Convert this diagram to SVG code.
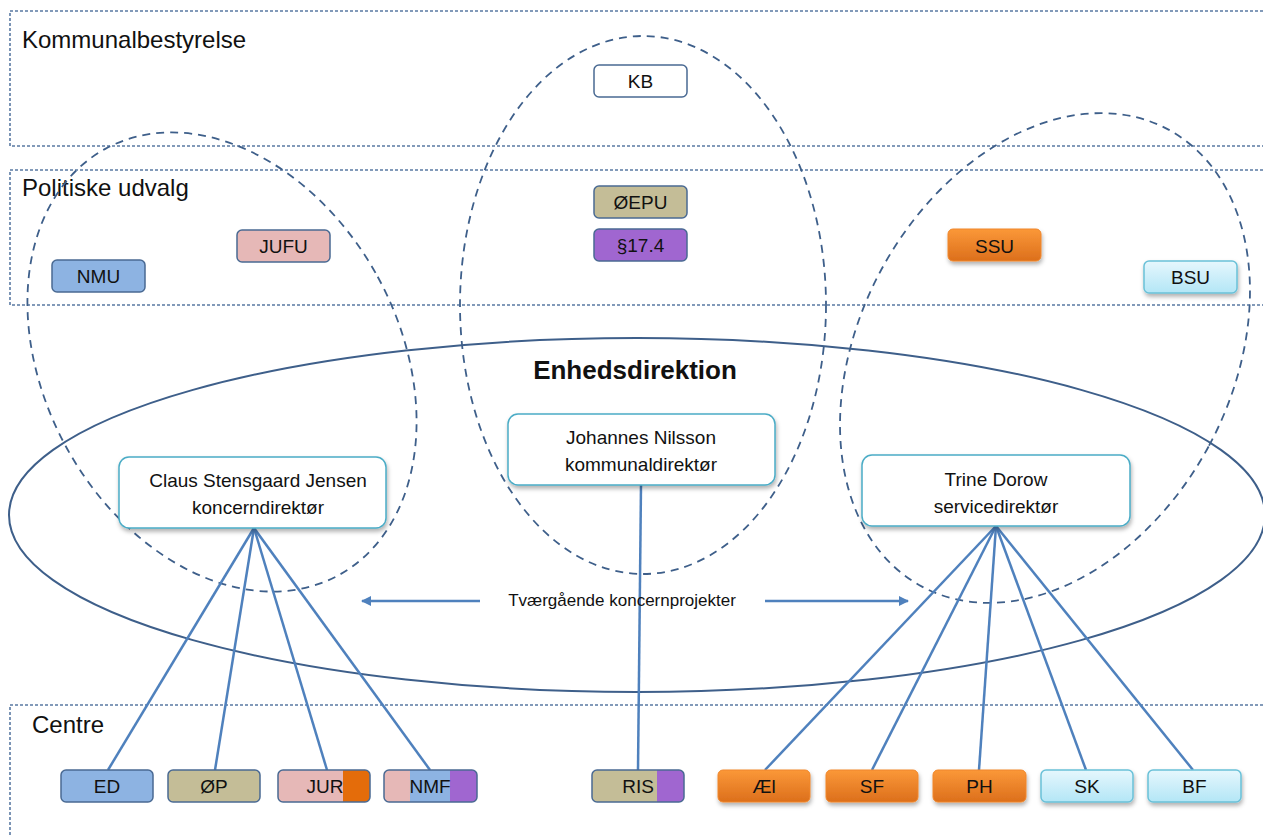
<svg xmlns="http://www.w3.org/2000/svg" width="1263" height="837" viewBox="0 0 1263 837">
<style>
text{font-family:"Liberation Sans",Arial,sans-serif;fill:#111}
.layer{fill:none;stroke:#5a7aa3;stroke-width:1.6;stroke-dasharray:3 2}
.lt{font-size:24px}
.dash{fill:none;stroke:#3e5f8a;stroke-width:1.8;stroke-dasharray:8 6}
.big{fill:none;stroke:#3e5f8a;stroke-width:2}
.sb{stroke:#4a6a93;stroke-width:1.5}
.lbl{font-size:19px;text-anchor:middle}
.dir{fill:#fff;stroke:#4bacc6;stroke-width:1.5}
.dt{font-size:19px;text-anchor:middle}
.con{stroke:#4f81bd;stroke-width:2.5;fill:none}
.blue{fill:#8db3e2}.tan{fill:#c4bd97}.pink{fill:#e6b8b7}.purple{fill:#a066d0}.orng{fill:#e46c0a}
</style>
<defs>
<linearGradient id="gO" x1="0" y1="0" x2="0" y2="1"><stop offset="0" stop-color="#fb9838"/><stop offset="1" stop-color="#dc6f1c"/></linearGradient>
<linearGradient id="gC" x1="0" y1="0" x2="0" y2="1"><stop offset="0" stop-color="#e6f7fd"/><stop offset="1" stop-color="#b3e6f6"/></linearGradient>
<filter id="sh" x="-10%" y="-20%" width="125%" height="150%"><feDropShadow dx="1" dy="3" stdDeviation="2" flood-color="#000" flood-opacity="0.3"/></filter>
<marker id="ah" markerWidth="10" markerHeight="10" refX="9" refY="5" orient="auto" markerUnits="userSpaceOnUse"><path d="M0,0 L10,5 L0,10 z" fill="#4f81bd"/></marker>
<clipPath id="cJUR"><rect x="278" y="770" width="92" height="32" rx="5"/></clipPath>
<clipPath id="cNMF"><rect x="384" y="770" width="93" height="32" rx="5"/></clipPath>
<clipPath id="cRIS"><rect x="592" y="770" width="92" height="32" rx="5"/></clipPath>
</defs>

<g id="layers">
<rect class="layer" x="10" y="11" width="1270" height="135"/>
<text class="lt" x="22" y="48">Kommunalbestyrelse</text>
<rect class="layer" x="10" y="170" width="1270" height="135"/>
<text class="lt" x="22" y="196">Politiske udvalg</text>
<rect class="layer" x="10" y="705" width="1270" height="150"/>
<text class="lt" x="32" y="733">Centre</text>
</g>

<g id="groups">
<ellipse class="big" cx="637" cy="515" rx="628" ry="177"/>
<text x="635" y="379" font-size="26" font-weight="bold" text-anchor="middle">Enhedsdirektion</text>
<ellipse class="dash" cx="222" cy="362" rx="177.5" ry="243" transform="rotate(-28.7 222 362)"/>
<ellipse class="dash" cx="643" cy="305" rx="183" ry="269"/>
<ellipse class="dash" cx="1045" cy="358" rx="186" ry="259.6" transform="rotate(28.4 1045 358)"/>
</g>

<g id="connectors">
<line class="con" x1="254" y1="528" x2="108" y2="770"/>
<line class="con" x1="254" y1="528" x2="215" y2="770"/>
<line class="con" x1="254" y1="528" x2="327" y2="770"/>
<line class="con" x1="254" y1="528" x2="430" y2="770"/>
<line class="con" x1="641" y1="485" x2="638" y2="770"/>
<line class="con" x1="996" y1="526" x2="765" y2="770"/>
<line class="con" x1="996" y1="526" x2="872" y2="770"/>
<line class="con" x1="996" y1="526" x2="979" y2="770"/>
<line class="con" x1="996" y1="526" x2="1086" y2="770"/>
<line class="con" x1="996" y1="526" x2="1193" y2="770"/>
<line class="con" x1="480" y1="601" x2="362" y2="601" marker-end="url(#ah)"/>
<line class="con" x1="765" y1="601" x2="908" y2="601" marker-end="url(#ah)"/>
<text x="622" y="606" font-size="17" text-anchor="middle">Tværgående koncernprojekter</text>
</g>

<g id="KB"><rect class="sb" x="594" y="65" width="93" height="32" rx="5" fill="#fff"/><text class="lbl" x="640.5" y="88">KB</text></g>
<g id="OEPU"><rect class="sb tan" x="594" y="186" width="93" height="32" rx="5"/><text class="lbl" x="640.5" y="209">ØEPU</text></g>
<g id="P174"><rect class="sb purple" x="594" y="229" width="93" height="32" rx="5"/><text class="lbl" x="640.5" y="252">§17.4</text></g>
<g id="JUFU"><rect class="sb pink" x="237" y="230" width="93" height="32" rx="5"/><text class="lbl" x="283.5" y="253">JUFU</text></g>
<g id="NMU"><rect class="sb blue" x="52" y="260" width="93" height="32" rx="5"/><text class="lbl" x="98.5" y="283">NMU</text></g>
<g id="SSU"><rect x="948" y="229" width="93" height="32" rx="5" fill="url(#gO)" stroke="#f0862a" stroke-width="1" filter="url(#sh)"/><text class="lbl" x="994.5" y="253" font-size="21">SSU</text></g>
<g id="BSU"><rect x="1144" y="261" width="93" height="32" rx="5" fill="url(#gC)" stroke="#6ac1d8" stroke-width="1.5" filter="url(#sh)"/><text class="lbl" x="1190.5" y="284">BSU</text></g>

<g id="Claus"><rect class="dir" x="119" y="457" width="267" height="71" rx="10" filter="url(#sh)"/><text class="dt" x="258" y="487">Claus Stensgaard Jensen</text><text class="dt" x="258" y="514">koncerndirektør</text></g>
<g id="Johannes"><rect class="dir" x="508" y="414" width="267" height="71" rx="10" filter="url(#sh)"/><text class="dt" x="641" y="444">Johannes Nilsson</text><text class="dt" x="641" y="471">kommunaldirektør</text></g>
<g id="Trine"><rect class="dir" x="862" y="455" width="268" height="71" rx="10" filter="url(#sh)"/><text class="dt" x="996" y="486">Trine Dorow</text><text class="dt" x="996" y="513">servicedirektør</text></g>

<g id="ED"><rect class="sb blue" x="61" y="770" width="92" height="32" rx="5"/><text class="lbl" x="107" y="793">ED</text></g>
<g id="OP"><rect class="sb tan" x="168" y="770" width="92" height="32" rx="5"/><text class="lbl" x="214" y="793">ØP</text></g>
<g id="JUR"><g clip-path="url(#cJUR)"><rect class="pink" x="278" y="770" width="65" height="32"/><rect class="orng" x="343" y="770" width="27" height="32"/></g><rect class="sb" x="278" y="770" width="92" height="32" rx="5" fill="none"/><text class="lbl" x="325" y="793">JUR</text></g>
<g id="NMF"><g clip-path="url(#cNMF)"><rect class="pink" x="384" y="770" width="26" height="32"/><rect class="blue" x="410" y="770" width="40" height="32"/><rect class="purple" x="450" y="770" width="27" height="32"/></g><rect class="sb" x="384" y="770" width="93" height="32" rx="5" fill="none"/><text class="lbl" x="430" y="793">NMF</text></g>
<g id="RIS"><g clip-path="url(#cRIS)"><rect class="tan" x="592" y="770" width="65" height="32"/><rect class="purple" x="657" y="770" width="27" height="32"/></g><rect class="sb" x="592" y="770" width="92" height="32" rx="5" fill="none"/><text class="lbl" x="638" y="793">RIS</text></g>
<g id="AEl"><rect x="718" y="770" width="92" height="32" rx="5" fill="url(#gO)" stroke="#f0862a" stroke-width="1" filter="url(#sh)"/><text class="lbl" x="764" y="793">Æl</text></g>
<g id="SF"><rect x="826" y="770" width="92" height="32" rx="5" fill="url(#gO)" stroke="#f0862a" stroke-width="1" filter="url(#sh)"/><text class="lbl" x="872" y="793">SF</text></g>
<g id="PH"><rect x="933" y="770" width="93" height="32" rx="5" fill="url(#gO)" stroke="#f0862a" stroke-width="1" filter="url(#sh)"/><text class="lbl" x="979.5" y="793">PH</text></g>
<g id="SK"><rect x="1041" y="770" width="92" height="32" rx="5" fill="url(#gC)" stroke="#6ac1d8" stroke-width="1.5" filter="url(#sh)"/><text class="lbl" x="1087" y="793">SK</text></g>
<g id="BF"><rect x="1148" y="770" width="93" height="32" rx="5" fill="url(#gC)" stroke="#6ac1d8" stroke-width="1.5" filter="url(#sh)"/><text class="lbl" x="1194.5" y="793">BF</text></g>
</svg>
